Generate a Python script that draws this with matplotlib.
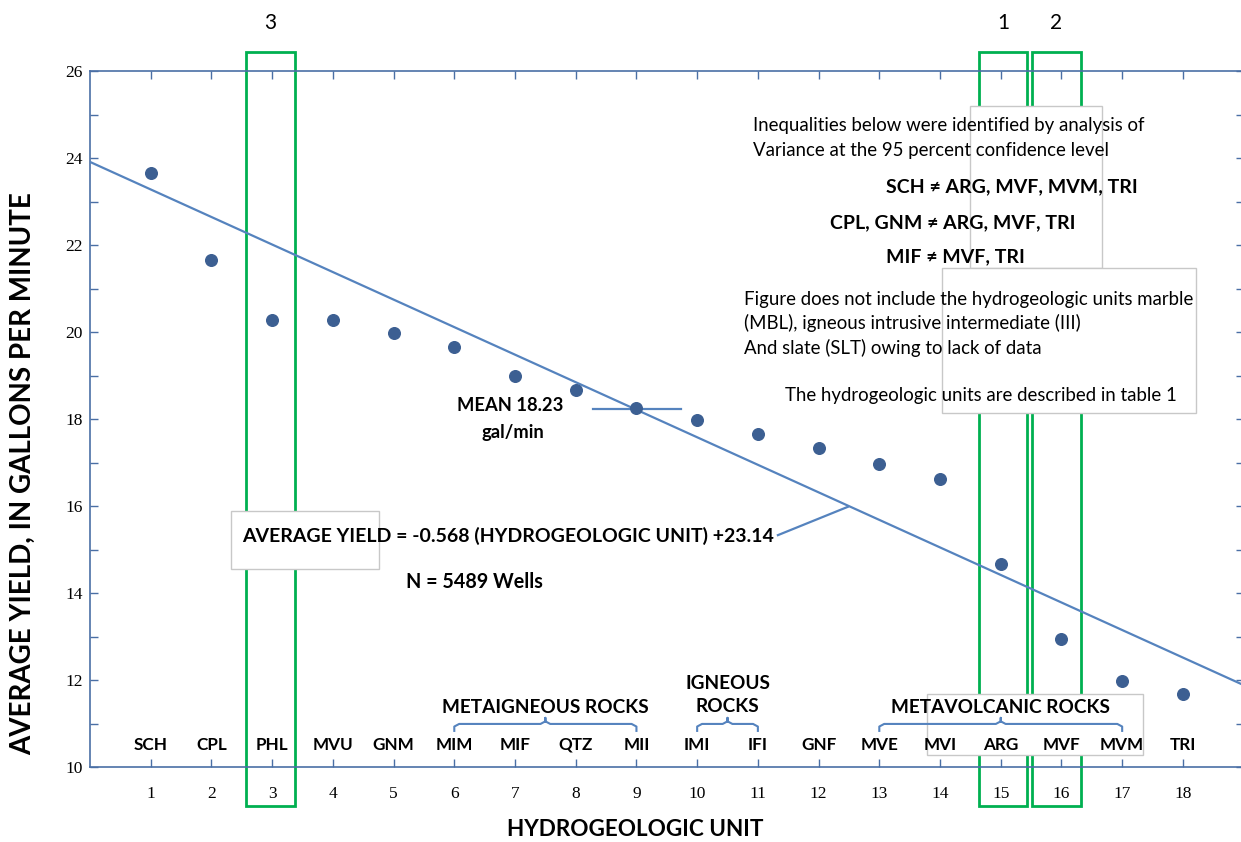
import matplotlib
matplotlib.use("Agg")
import matplotlib.pyplot as plt
from matplotlib.patches import Rectangle

# hydrogeologic units, in rank order
units = ['SCH', 'CPL', 'PHL', 'MVU', 'GNM', 'MIM', 'MIF', 'QTZ', 'MII',
         'IMI', 'IFI', 'GNF', 'MVE', 'MVI', 'ARG', 'MVF', 'MVM', 'TRI']
unit_no = list(range(1, 19))
avg_yield = [23.66, 21.66, 20.28, 20.28, 19.98, 19.66, 18.99, 18.67, 18.25,
             17.98, 17.66, 17.33, 16.97, 16.62, 14.67, 12.95, 11.97, 11.68]

# trend line as drawn in the figure
trend_intercept = 23.91
trend_slope = -0.633
mean_yield = 18.23

# rock groups (first unit, last unit, label)
groups = [(6, 9, 'METAIGNEOUS ROCKS'), (10, 11, 'IGNEOUS\nROCKS'),
          (13, 17, 'METAVOLCANIC ROCKS')]

# highlighted units (x span, label)
highlights = [(2.57, 3.37, '3'), (14.64, 15.43, '1'), (15.51, 16.32, '2')]

SANS = 'Lato'
SPINE = '#4a6fa5'
LINE = '#5583be'
DOT = '#3c5f92'
GREEN = '#00b050'
BOXEDGE = '#c8c8c8'

fig = plt.figure(figsize=(12.41, 8.42), dpi=100)
ax = fig.add_axes([90 / 1241, 75 / 842, 1153.6 / 1241, 696 / 842])
ax.set_xlim(0, 19)
ax.set_ylim(10, 26)

for s in ax.spines.values():
    s.set_color(SPINE)
    s.set_linewidth(1.2)

ax.set_xticks(unit_no)
ax.set_yticks(range(10, 27, 2))
ax.set_yticks(range(11, 26, 2), minor=True)
ax.tick_params(axis='both', which='both', direction='in', top=True, right=True,
               color=SPINE, length=6, width=1)
ax.tick_params(axis='x', pad=14)
ax.tick_params(axis='y', pad=5)
for lab in ax.get_xticklabels() + ax.get_yticklabels():
    lab.set_fontfamily('Liberation Serif')
    lab.set_fontsize(12.5)

# trend line and points
xs = [0, 19]
ax.plot(xs, [trend_intercept + trend_slope * x for x in xs], color=LINE, lw=1.6, zorder=3)
ax.scatter(unit_no, avg_yield, s=70, color=DOT, zorder=4)

# mean marker
ax.plot([8.28, 9.73], [mean_yield, mean_yield], color=LINE, lw=1.6, zorder=3)
ax.text(6.04, 18.32, 'MEAN %.2f' % mean_yield, fontfamily=SANS, fontweight='bold',
        fontsize=13.2, va='center', ha='left', zorder=6)
ax.text(6.96, 17.70, 'gal/min', fontfamily=SANS, fontweight='bold',
        fontsize=13.2, va='center', ha='center', zorder=6)

# highlighted boxes
for x0, x1, lab in highlights:
    ax.add_patch(Rectangle((x0, 9.10), x1 - x0, 26.44 - 9.10, fill=False,
                           edgecolor=GREEN, lw=2, clip_on=False, zorder=2))
    ax.text((x0 + x1) / 2, 27.10, lab, fontfamily=SANS, fontsize=15,
            ha='center', va='center')

# white note boxes
boxes = [(14.50, 21.47, 16.67, 25.20), (14.03, 18.14, 18.22, 21.47),
         (2.32, 14.55, 4.76, 15.89), (13.78, 10.28, 17.34, 11.68)]
for x0, y0, x1, y1 in boxes:
    ax.add_patch(Rectangle((x0, y0), x1 - x0, y1 - y0, facecolor='white',
                           edgecolor=BOXEDGE, lw=1, clip_on=False, zorder=3.5))

# unit abbreviations
for x, u in zip(unit_no, units):
    ax.text(x, 10.51, u, fontfamily=SANS, fontweight='bold', fontsize=12.3,
            ha='center', va='center', zorder=6)

# group braces
for x0, x1, lab in groups:
    xm = (x0 + x1) / 2
    ax.plot([x0, x0, x0 + 0.08, xm - 0.08, xm, xm, xm, xm + 0.08, x1 - 0.08, x1, x1],
            [10.83, 10.93, 10.99, 10.99, 11.05, 11.13, 11.05, 10.99, 10.99, 10.93, 10.83],
            color=LINE, lw=1.5, zorder=6)
    ax.text(xm, 11.36 if '\n' not in lab else 11.66, lab, fontfamily=SANS,
            fontweight='bold', fontsize=13.7, ha='center', va='center',
            linespacing=1.45, zorder=6)

# notes
note_kw = dict(fontfamily=SANS, fontsize=13.4, ha='left', va='center', zorder=6)
ax.text(10.92, 24.74, 'Inequalities below were identified by analysis of', **note_kw)
ax.text(10.92, 24.18, 'Variance at the 95 percent confidence level', **note_kw)
bold_kw = dict(fontfamily=SANS, fontsize=14, fontweight='bold', ha='left',
               va='center', zorder=6)
ax.text(13.11, 23.33, 'SCH \u2260 ARG, MVF, MVM, TRI', **bold_kw)
ax.text(12.19, 22.51, 'CPL, GNM \u2260 ARG, MVF, TRI', **bold_kw)
ax.text(13.11, 21.72, 'MIF \u2260 MVF, TRI', **bold_kw)
ax.text(10.77, 20.74, 'Figure does not include the hydrogeologic units marble', **note_kw)
ax.text(10.77, 20.21, '(MBL), igneous intrusive intermediate (III)', **note_kw)
ax.text(10.77, 19.63, 'And slate (SLT) owing to lack of data', **note_kw)
ax.text(11.44, 18.53, 'The hydrogeologic units are described in table 1', **note_kw)

# regression equation
ax.text(2.50, 15.31, 'AVERAGE YIELD = -0.568 (HYDROGEOLOGIC UNIT) +23.14',
        fontfamily=SANS, fontsize=14, fontweight='bold', ha='left', va='center', zorder=6)
ax.text(5.20, 14.25, 'N = 5489 Wells', fontfamily=SANS, fontsize=14.2,
        fontweight='bold', ha='left', va='center', zorder=6)
ax.plot([11.33, 12.48], [15.33, 15.98], color=LINE, lw=1.6, zorder=3)

# axis titles
fig.text(635 / 1241, 1 - 830 / 842, 'HYDROGEOLOGIC UNIT', fontfamily=SANS,
         fontweight='bold', fontsize=16.2, ha='center', va='center')
fig.text(23 / 1241, 1 - 192 / 842, 'AVERAGE YIELD, IN GALLONS PER MINUTE',
         fontfamily=SANS, fontweight='bold', fontsize=20, ha='center',
         va='top', rotation=90)

fig.savefig('out.png', dpi=100)
